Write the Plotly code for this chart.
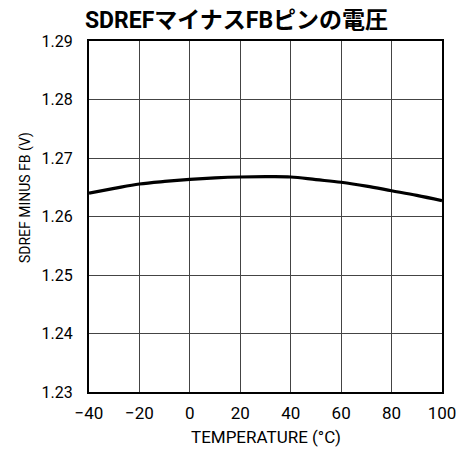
import plotly.graph_objects as go

temperature = [-40, -30, -20, -10, 0, 10, 20, 30, 40, 50, 60, 70, 80, 90, 100]
voltage = [1.2640, 1.2648, 1.26555, 1.2660, 1.26635, 1.2666, 1.26675, 1.2668, 1.26675, 1.2663, 1.26585, 1.2652, 1.2644, 1.2636, 1.2627]

x_ticks = [-40, -20, 0, 20, 40, 60, 80, 100]
x_ticktext = ["\u221240", "\u221220", "0", "20", "40", "60", "80", "100"]
y_ticks = [1.23, 1.24, 1.25, 1.26, 1.27, 1.28, 1.29]

title_text = "SDREFマイナスFBピンの電圧"
x_title = "TEMPERATURE (°C)"
y_title = "SDREF MINUS FB (V)"

font_family = "Roboto, Noto Sans CJK JP"

fig = go.Figure()
fig.add_trace(go.Scatter(x=temperature, y=voltage, mode="lines",
                         line=dict(color="black", width=3.2, shape="spline"),
                         showlegend=False, hoverinfo="skip"))

fig.update_layout(
    width=473, height=449,
    margin=dict(l=89, r=31, t=41, b=57),
    paper_bgcolor="white", plot_bgcolor="white",
    font=dict(family=font_family, color="black", size=15),
    title=dict(text="<b>" + title_text + "</b>", x=0.5, xanchor="center",
               y=1 - 20 / 449, yanchor="middle",
               font=dict(family="Roboto, Noto Sans CJK JP", size=23, color="black")),
)
fig.add_annotation(text=x_title, xref="paper", yref="paper",
                   x=(265.5 - 89) / 353, y=-(437 - 392) / 352,
                   xanchor="center", yanchor="middle", showarrow=False,
                   font=dict(size=17, family=font_family))
fig.add_annotation(text=y_title, xref="paper", yref="paper",
                   x=-(89 - 25) / 353, y=(392 - 197.5) / 352, textangle=-90,
                   xanchor="center", yanchor="middle", showarrow=False,
                   font=dict(size=14, family=font_family))
fig.update_xaxes(range=[-40, 100], tickvals=x_ticks, ticktext=x_ticktext,
                 showgrid=True, gridcolor="#444", gridwidth=1,
                 showline=True, linecolor="black", linewidth=2, mirror=True,
                 ticks="", zeroline=False, ticklabelstandoff=5,
                 tickfont=dict(size=17))
fig.update_yaxes(range=[1.23, 1.29], tickvals=y_ticks, tickformat=".2f",
                 showgrid=True, gridcolor="#444", gridwidth=1,
                 showline=True, linecolor="black", linewidth=2, mirror=True,
                 ticks="", zeroline=False, ticklabelstandoff=11,
                 tickfont=dict(size=16))

fig.write_html("out.html")
